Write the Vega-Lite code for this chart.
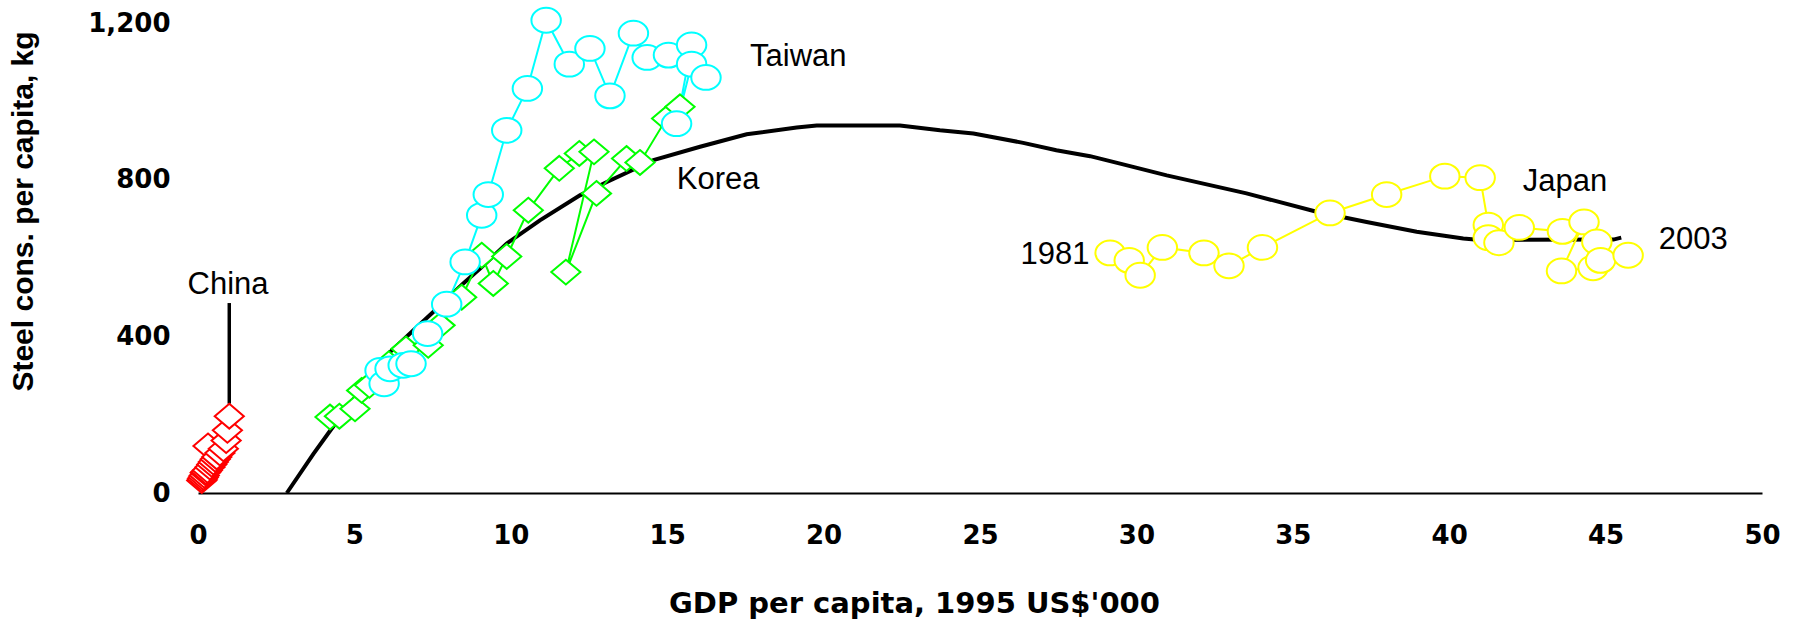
{
  "$schema": "https://vega.github.io/schema/vega-lite/v6.json",
  "width": 1564,
  "height": 470,
  "autosize": {"type": "none"},
  "padding": {"left": 198, "top": 23, "right": 40, "bottom": 130},
  "background": "white",
  "config": {"view": {"stroke": null}, "font": "Liberation Sans"},
  "datasets": {
    "curve": [
      {"gdp": 2.84, "steel": 0}, {"gdp": 3.69, "steel": 100}, {"gdp": 4.27, "steel": 164},
      {"gdp": 5.18, "steel": 262}, {"gdp": 6.14, "steel": 360}, {"gdp": 6.88, "steel": 415},
      {"gdp": 7.52, "steel": 462}, {"gdp": 8.48, "steel": 535}, {"gdp": 9.02, "steel": 573},
      {"gdp": 9.87, "steel": 637}, {"gdp": 10.93, "steel": 696}, {"gdp": 12.21, "steel": 760},
      {"gdp": 13.07, "steel": 794}, {"gdp": 14.56, "steel": 850}, {"gdp": 16.05, "steel": 884},
      {"gdp": 17.54, "steel": 916}, {"gdp": 19.14, "steel": 933}, {"gdp": 19.78, "steel": 938},
      {"gdp": 22.44, "steel": 938}, {"gdp": 23.72, "steel": 926}, {"gdp": 24.79, "steel": 918},
      {"gdp": 26.38, "steel": 894}, {"gdp": 27.44, "steel": 875}, {"gdp": 28.52, "steel": 860},
      {"gdp": 29.48, "steel": 841}, {"gdp": 30.97, "steel": 811}, {"gdp": 33.52, "steel": 765},
      {"gdp": 35.76, "steel": 718}, {"gdp": 37.36, "steel": 692}, {"gdp": 38.96, "steel": 667},
      {"gdp": 40.45, "steel": 650}, {"gdp": 41.0, "steel": 646}, {"gdp": 45.25, "steel": 647},
      {"gdp": 45.5, "steel": 652}
    ],
    "series": [
      {"country": "Korea", "yr": 1981, "gdp": 4.22, "steel": 194},
      {"country": "Korea", "yr": 1982, "gdp": 4.52, "steel": 196},
      {"country": "Korea", "yr": 1983, "gdp": 5.02, "steel": 215},
      {"country": "Korea", "yr": 1984, "gdp": 5.23, "steel": 262},
      {"country": "Korea", "yr": 1985, "gdp": 5.48, "steel": 275},
      {"country": "Korea", "yr": 1986, "gdp": 6.1, "steel": 330},
      {"country": "Korea", "yr": 1987, "gdp": 6.65, "steel": 368},
      {"country": "Korea", "yr": 1988, "gdp": 7.36, "steel": 377},
      {"country": "Korea", "yr": 1989, "gdp": 7.74, "steel": 428},
      {"country": "Korea", "yr": 1990, "gdp": 8.43, "steel": 500},
      {"country": "Korea", "yr": 1991, "gdp": 9.07, "steel": 607},
      {"country": "Korea", "yr": 1992, "gdp": 9.44, "steel": 535},
      {"country": "Korea", "yr": 1993, "gdp": 9.87, "steel": 604},
      {"country": "Korea", "yr": 1994, "gdp": 10.56, "steel": 722},
      {"country": "Korea", "yr": 1995, "gdp": 11.55, "steel": 829},
      {"country": "Korea", "yr": 1996, "gdp": 12.19, "steel": 867},
      {"country": "Korea", "yr": 1997, "gdp": 12.66, "steel": 871},
      {"country": "Korea", "yr": 1998, "gdp": 11.76, "steel": 564},
      {"country": "Korea", "yr": 1999, "gdp": 12.74, "steel": 765},
      {"country": "Korea", "yr": 2000, "gdp": 13.7, "steel": 854},
      {"country": "Korea", "yr": 2001, "gdp": 14.13, "steel": 844},
      {"country": "Korea", "yr": 2002, "gdp": 14.98, "steel": 956},
      {"country": "Korea", "yr": 2003, "gdp": 15.41, "steel": 986},
      {"country": "Taiwan", "yr": 1981, "gdp": 5.82, "steel": 313},
      {"country": "Taiwan", "yr": 1982, "gdp": 5.95, "steel": 279},
      {"country": "Taiwan", "yr": 1983, "gdp": 6.14, "steel": 317},
      {"country": "Taiwan", "yr": 1984, "gdp": 6.56, "steel": 326},
      {"country": "Taiwan", "yr": 1985, "gdp": 6.81, "steel": 330},
      {"country": "Taiwan", "yr": 1986, "gdp": 7.34, "steel": 407},
      {"country": "Taiwan", "yr": 1987, "gdp": 7.95, "steel": 482},
      {"country": "Taiwan", "yr": 1988, "gdp": 8.54, "steel": 590},
      {"country": "Taiwan", "yr": 1989, "gdp": 9.07, "steel": 709},
      {"country": "Taiwan", "yr": 1990, "gdp": 9.28, "steel": 762},
      {"country": "Taiwan", "yr": 1991, "gdp": 9.87, "steel": 926},
      {"country": "Taiwan", "yr": 1992, "gdp": 10.53, "steel": 1033},
      {"country": "Taiwan", "yr": 1993, "gdp": 11.13, "steel": 1207},
      {"country": "Taiwan", "yr": 1994, "gdp": 11.87, "steel": 1095},
      {"country": "Taiwan", "yr": 1995, "gdp": 12.53, "steel": 1135},
      {"country": "Taiwan", "yr": 1996, "gdp": 13.17, "steel": 1014},
      {"country": "Taiwan", "yr": 1997, "gdp": 13.92, "steel": 1174},
      {"country": "Taiwan", "yr": 1998, "gdp": 14.36, "steel": 1112},
      {"country": "Taiwan", "yr": 1999, "gdp": 15.04, "steel": 1118},
      {"country": "Taiwan", "yr": 2000, "gdp": 15.78, "steel": 1144},
      {"country": "Taiwan", "yr": 2001, "gdp": 15.3, "steel": 943},
      {"country": "Taiwan", "yr": 2002, "gdp": 15.78, "steel": 1095},
      {"country": "Taiwan", "yr": 2003, "gdp": 16.24, "steel": 1061},
      {"country": "China", "yr": 1986, "gdp": 0.12, "steel": 32},
      {"country": "China", "yr": 1987, "gdp": 0.14, "steel": 36},
      {"country": "China", "yr": 1988, "gdp": 0.17, "steel": 40},
      {"country": "China", "yr": 1989, "gdp": 0.2, "steel": 45},
      {"country": "China", "yr": 1990, "gdp": 0.23, "steel": 52},
      {"country": "China", "yr": 1991, "gdp": 0.26, "steel": 54},
      {"country": "China", "yr": 1992, "gdp": 0.3, "steel": 58},
      {"country": "China", "yr": 1993, "gdp": 0.32, "steel": 120},
      {"country": "China", "yr": 1994, "gdp": 0.38, "steel": 66},
      {"country": "China", "yr": 1995, "gdp": 0.44, "steel": 73},
      {"country": "China", "yr": 1996, "gdp": 0.49, "steel": 79},
      {"country": "China", "yr": 1997, "gdp": 0.55, "steel": 86},
      {"country": "China", "yr": 1998, "gdp": 0.6, "steel": 92},
      {"country": "China", "yr": 1999, "gdp": 0.7, "steel": 102},
      {"country": "China", "yr": 2000, "gdp": 0.81, "steel": 113},
      {"country": "China", "yr": 2001, "gdp": 0.9, "steel": 134},
      {"country": "China", "yr": 2002, "gdp": 0.94, "steel": 160},
      {"country": "China", "yr": 2003, "gdp": 1.0, "steel": 196},
      {"country": "Japan", "yr": 1981, "gdp": 29.16, "steel": 613},
      {"country": "Japan", "yr": 1982, "gdp": 29.77, "steel": 594},
      {"country": "Japan", "yr": 1983, "gdp": 30.12, "steel": 556},
      {"country": "Japan", "yr": 1984, "gdp": 30.83, "steel": 627},
      {"country": "Japan", "yr": 1985, "gdp": 32.16, "steel": 613},
      {"country": "Japan", "yr": 1986, "gdp": 32.96, "steel": 580},
      {"country": "Japan", "yr": 1987, "gdp": 34.03, "steel": 627},
      {"country": "Japan", "yr": 1988, "gdp": 36.19, "steel": 715},
      {"country": "Japan", "yr": 1989, "gdp": 38.0, "steel": 762},
      {"country": "Japan", "yr": 1990, "gdp": 39.86, "steel": 809},
      {"country": "Japan", "yr": 1991, "gdp": 40.99, "steel": 805},
      {"country": "Japan", "yr": 1992, "gdp": 41.25, "steel": 684},
      {"country": "Japan", "yr": 1993, "gdp": 41.25, "steel": 652},
      {"country": "Japan", "yr": 1994, "gdp": 41.59, "steel": 639},
      {"country": "Japan", "yr": 1995, "gdp": 42.24, "steel": 678},
      {"country": "Japan", "yr": 1996, "gdp": 43.62, "steel": 668},
      {"country": "Japan", "yr": 1997, "gdp": 44.31, "steel": 692},
      {"country": "Japan", "yr": 1998, "gdp": 43.59, "steel": 567},
      {"country": "Japan", "yr": 1999, "gdp": 44.6, "steel": 575},
      {"country": "Japan", "yr": 2000, "gdp": 44.72, "steel": 641},
      {"country": "Japan", "yr": 2001, "gdp": 44.84, "steel": 594},
      {"country": "Japan", "yr": 2003, "gdp": 45.72, "steel": 607}
    ],
    "callout": [
      {"gdp": 1.0, "steel": 228, "steel_top": 485}
    ],
    "labels": [
      {"gdp": 0.96, "steel": 530, "label": "China"},
      {"gdp": 19.19, "steel": 1112, "label": "Taiwan"},
      {"gdp": 16.63, "steel": 799, "label": "Korea"},
      {"gdp": 43.7, "steel": 794, "label": "Japan"},
      {"gdp": 27.4, "steel": 607, "label": "1981"},
      {"gdp": 47.8, "steel": 647, "label": "2003"}
    ]
  },
  "encoding": {
    "x": {
      "field": "gdp",
      "type": "quantitative",
      "scale": {"domain": [0, 50], "nice": false},
      "axis": {
        "title": "GDP per capita, 1995 US$'000",
        "values": [0, 5, 10, 15, 20, 25, 30, 35, 40, 45, 50],
        "grid": false,
        "ticks": false,
        "tickSize": 0,
        "domain": true,
        "domainColor": "black",
        "domainWidth": 2,
        "labelFlush": false,
        "labelOverlap": false,
        "labelFont": "DejaVu Sans",
        "labelFontSize": 26,
        "labelFontWeight": "bold",
        "labelColor": "black",
        "labelBaseline": "top",
        "labelPadding": 29,
        "titleFont": "DejaVu Sans",
        "titleFontSize": 29,
        "titleFontWeight": "bold",
        "titleColor": "black",
        "titleAlign": "center",
        "titleAnchor": "start",
        "titleBaseline": "middle",
        "titleX": 716,
        "titleY": 110
      }
    },
    "y": {
      "field": "steel",
      "type": "quantitative",
      "scale": {"domain": [0, 1200], "nice": false},
      "axis": {
        "title": "Steel cons. per capita, kg",
        "values": [0, 400, 800, 1200],
        "format": ",d",
        "grid": false,
        "ticks": false,
        "tickSize": 0,
        "domain": false,
        "labelFont": "DejaVu Sans",
        "labelFontSize": 26,
        "labelFontWeight": "bold",
        "labelColor": "black",
        "labelPadding": 28,
        "titleFont": "Liberation Sans",
        "titleFontSize": 30,
        "titleFontWeight": "bold",
        "titleColor": "black",
        "titleAngle": 270,
        "titleAlign": "center",
        "titleBaseline": "middle",
        "titleX": -175,
        "titleY": 188
      }
    }
  },
  "layer": [
    {
      "data": {"name": "curve"},
      "mark": {"type": "line", "color": "black", "strokeWidth": 4},
      "encoding": {}
    },
    {
      "data": {"name": "series"},
      "mark": {"type": "line", "strokeWidth": 2},
      "encoding": {
        "color": {
          "field": "country",
          "type": "nominal",
          "scale": {"domain": ["Korea", "Taiwan", "China", "Japan"], "range": ["#00ff00", "#00ffff", "#ff0000", "#ffff00"]},
          "legend": null
        },
        "detail": {"field": "country"},
        "order": {"field": "yr", "type": "quantitative"}
      }
    },
    {
      "data": {"name": "callout"},
      "mark": {"type": "rule", "color": "black", "strokeWidth": 3.5},
      "encoding": {"y2": {"field": "steel_top"}}
    },
    {
      "data": {"name": "series"},
      "mark": {"type": "point", "filled": false, "fill": "white", "fillOpacity": 1, "opacity": 1, "strokeWidth": 2, "size": 961},
      "encoding": {
        "color": {
          "field": "country",
          "type": "nominal",
          "scale": {"domain": ["Korea", "Taiwan", "China", "Japan"], "range": ["#00ff00", "#00ffff", "#ff0000", "#ffff00"]},
          "legend": null
        },
        "shape": {
          "field": "country",
          "type": "nominal",
          "scale": {
            "domain": ["Korea", "Taiwan", "China", "Japan"],
            "range": [
              "M 0 -0.8 L 0.94 0 L 0 0.8 L -0.94 0 Z",
              "M -0.95 0 A 0.95 0.8 0 1 0 0.95 0 A 0.95 0.8 0 1 0 -0.95 0 Z",
              "M 0 -0.8 L 0.94 0 L 0 0.8 L -0.94 0 Z",
              "M -0.95 0 A 0.95 0.8 0 1 0 0.95 0 A 0.95 0.8 0 1 0 -0.95 0 Z"
            ]
          },
          "legend": null
        }
      }
    },
    {
      "data": {"name": "labels"},
      "mark": {"type": "text", "font": "Liberation Sans", "fontSize": 31, "color": "black", "align": "center", "baseline": "middle"},
      "encoding": {"text": {"field": "label"}}
    }
  ]
}
